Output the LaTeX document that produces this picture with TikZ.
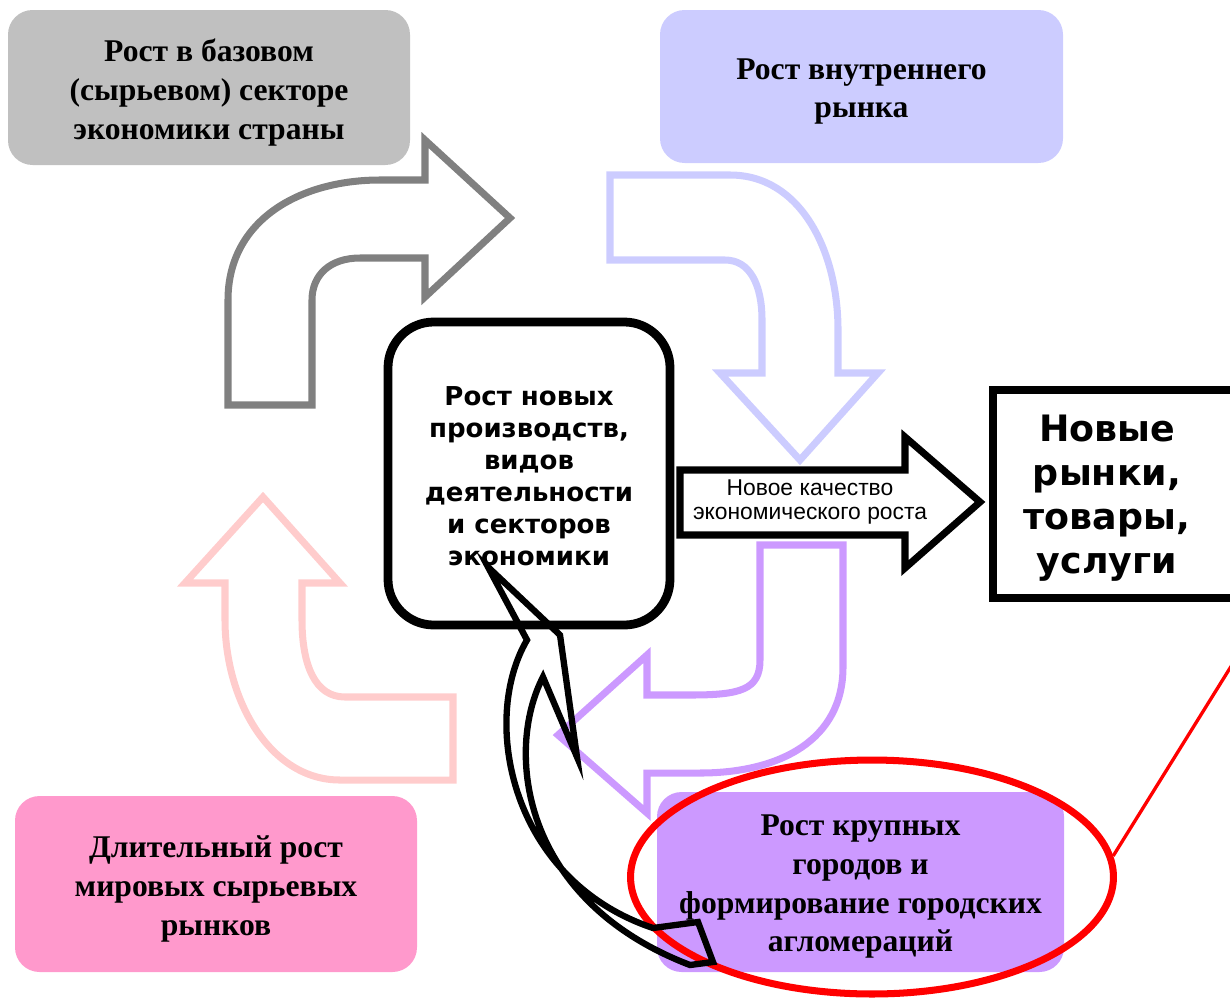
\documentclass[tikz,border=0pt]{standalone}
\usepackage{fontspec}
\setmainfont{Liberation Serif}
\newfontfamily\boxsans{DejaVu Sans}
\newfontfamily\narrowsans{Liberation Sans}
\usetikzlibrary{shapes.geometric}
\definecolor{basegrey}{HTML}{C0C0C0}
\definecolor{arrowgrey}{HTML}{808080}
\definecolor{innerblue}{HTML}{CCCCFF}
\definecolor{worldpink}{HTML}{FF99CC}
\definecolor{arrowpink}{HTML}{FFCCCC}
\definecolor{citylilac}{HTML}{CC99FF}

\begin{document}
\begin{tikzpicture}[x=0.02cm, y=-0.02cm,
    softbox/.style={rounded corners=14pt},
    boxtext/.style={align=center, text=black, yshift=-2.8pt, font=\fontsize{18}{22}\selectfont\bfseries},
    bentarrow/.style={line width=4pt, line join=miter}]
\useasboundingbox (0,0) rectangle (1230,998);

\fill[basegrey, softbox] (8,10) rectangle (410,165) node[midway, boxtext] (basegrowth) {Рост в базовом\\(сырьевом) секторе\\экономики страны};
\fill[innerblue, softbox] (660,10) rectangle (1063,163) node[midway, boxtext] (innermarket) {Рост внутреннего\\рынка};
\fill[worldpink, softbox] (15,796) rectangle (417,972) node[midway, boxtext] (worldmarkets) {Длительный рост\\мировых сырьевых\\рынков};
\fill[citylilac, softbox] (657,792) rectangle (1064,972) node[midway, boxtext] (cities) {Рост крупных\\городов и\\формирование городских\\агломераций};

\draw[arrowgrey, bentarrow] (228,405) -- (228,300) .. controls (228,220) and (300,180) .. (380,180) -- (425,180) -- (425,140) -- (510,218) -- (425,297) -- (425,258) -- (360,258) .. controls (330,258) and (312,275) .. (312,300) -- (312,405) -- cycle;
\draw[innerblue, bentarrow] (610,175) -- (730,175) .. controls (800,175) and (838,250) .. (838,330) -- (838,373) -- (878,373) -- (800,460) -- (720,373) -- (762,373) -- (762,320) .. controls (762,285) and (750,260) .. (725,260) -- (610,260) -- cycle;
\draw[arrowpink, bentarrow] (263,497) -- (340,583) -- (302,583) -- (302,620) .. controls (302,665) and (315,697) .. (345,697) -- (453,697) -- (453,780) -- (340,780) .. controls (270,780) and (225,700) .. (225,620) -- (225,583) -- (185,583) -- cycle;
\draw[citylilac, bentarrow] (760,545) -- (843,545) -- (843,667) .. controls (843,740) and (780,773) .. (700,773) -- (647,773) -- (647,813) -- (558,735) -- (647,655) -- (647,695) -- (690,695) .. controls (740,695) and (760,690) .. (760,660) -- cycle;

\draw[line width=5pt, rounded corners=26pt] (388,322) rectangle (670,625) node[midway, align=center, yshift=-1.4pt, font=\boxsans\fontsize{14.8}{18.2}\selectfont\bfseries] (newprod) {Рост новых\\производств,\\видов\\деятельности\\и секторов\\экономики};
\draw[line width=4.8pt] (993,390) rectangle (1245,598);
\node[align=center, font=\boxsans\fontsize{20.7}{25}\selectfont\bfseries] (newmarkets) at (1107,498) {Новые\\рынки,\\товары,\\услуги};

\draw[line width=4pt] (680,470) -- (905,470) -- (905,437) -- (980,502) -- (905,568) -- (905,535) -- (680,535) -- cycle;
\node[align=center, font=\narrowsans\fontsize{13}{14.2}\selectfont] (quality) at (810,502) {Новое качество\\экономического роста};

\node[draw=red, line width=4pt, ellipse, inner sep=0pt, minimum width=9.66cm, minimum height=4.68cm] (agglo) at (872,877) {};
\coordinate (offpage) at (1240,652);
\draw[red, line width=1.9pt] (agglo.5) -- (offpage);

\draw[line width=3.6pt, line join=miter] (527,640) -- (488,567) -- (560,635) -- (577,757) -- (543,677) .. controls (505,750) and (520,900) .. (690,965) -- (713,962) -- (698,922) -- (653,928) .. controls (510,880) and (480,720) .. (527,640) -- cycle;

\end{tikzpicture}
\end{document}
